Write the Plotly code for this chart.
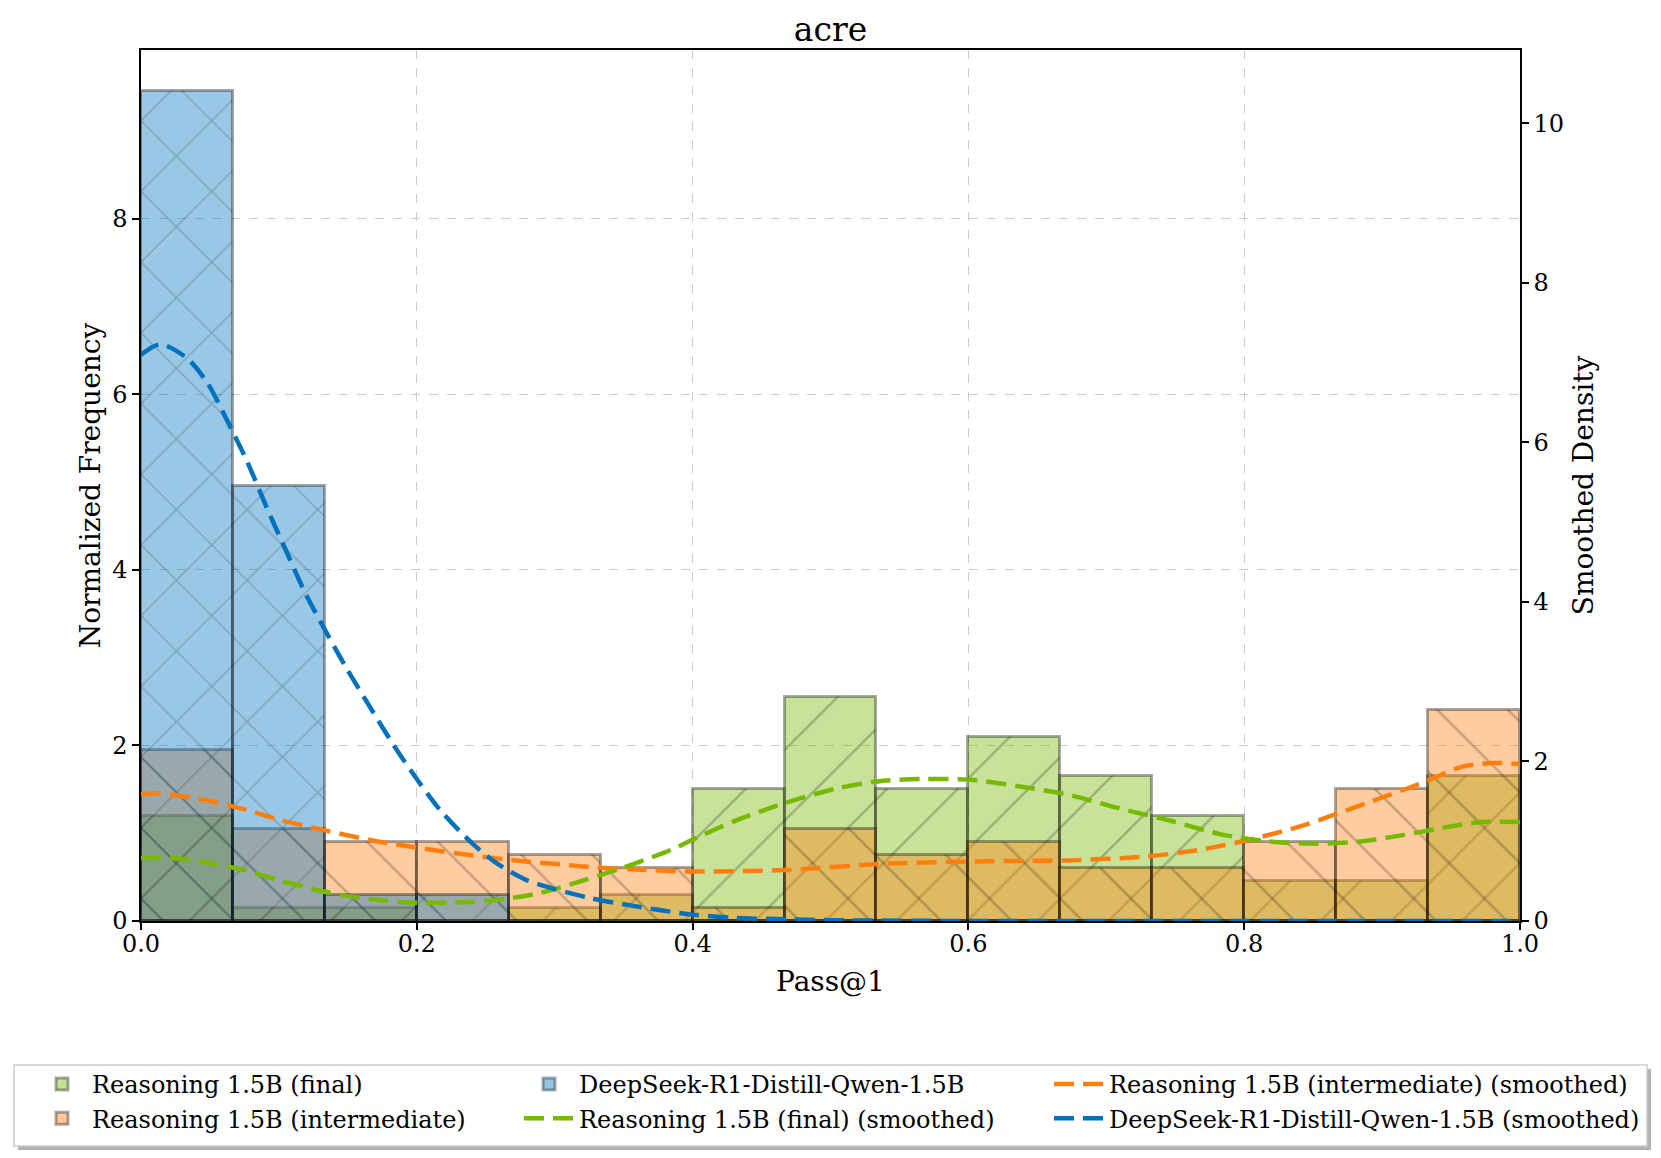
import numpy as np
import plotly.graph_objects as go

# ---------------- data ----------------
n_bins = 15
bin_edges = np.linspace(0.0, 1.0, n_bins + 1)

final_freq = [1.2, 0.15, 0.15, 0.0, 0.15, 0.3, 1.5, 2.55, 1.5, 2.1, 1.65, 1.2, 0.45, 0.45, 1.65]
inter_freq = [1.95, 1.05, 0.9, 0.9, 0.75, 0.6, 0.15, 1.05, 0.75, 0.9, 0.6, 0.6, 0.9, 1.5, 2.4]
ds_freq = [9.45, 4.95, 0.3, 0.3, 0, 0, 0, 0, 0, 0, 0, 0, 0, 0, 0]

inter_kde_x = [0.0, 0.013, 0.048, 0.077, 0.10, 0.135, 0.168, 0.2, 0.241, 0.277, 0.304, 0.323,
               0.354, 0.4, 0.467, 0.542, 0.617, 0.673, 0.729, 0.767, 0.804, 0.843, 0.889,
               0.932, 0.957, 0.98, 1.0]
inter_kde_y = [1.59, 1.60, 1.51, 1.39, 1.27, 1.13, 1.01, 0.92, 0.82, 0.75, 0.71, 0.68,
               0.65, 0.62, 0.64, 0.72, 0.75, 0.76, 0.81, 0.89, 1.02, 1.20, 1.48,
               1.75, 1.93, 1.98, 1.97]

final_kde_x = [0.0, 0.023, 0.048, 0.077, 0.10, 0.135, 0.168, 0.2, 0.241, 0.265, 0.289, 0.323,
               0.358, 0.384, 0.4, 0.43, 0.467, 0.504, 0.534, 0.568, 0.602, 0.636, 0.673,
               0.71, 0.748, 0.785, 0.823, 0.853, 0.886, 0.916, 0.948, 0.972, 1.0]
final_kde_y = [0.79, 0.79, 0.73, 0.63, 0.51, 0.36, 0.27, 0.23, 0.24, 0.28, 0.35, 0.52,
               0.72, 0.89, 1.02, 1.25, 1.48, 1.66, 1.75, 1.78, 1.77, 1.69, 1.58,
               1.41, 1.25, 1.08, 0.99, 0.97, 1.00, 1.08, 1.18, 1.24, 1.24]

ds_kde_x = [0.0, 0.014, 0.033, 0.048, 0.062, 0.077, 0.091, 0.106, 0.12, 0.135, 0.149, 0.164,
            0.183, 0.2, 0.217, 0.241, 0.26, 0.28, 0.30, 0.325, 0.35, 0.375, 0.40, 0.43,
            0.47, 0.5, 0.6, 0.8, 1.0]
ds_kde_y = [7.10, 7.23, 7.06, 6.75, 6.29, 5.76, 5.19, 4.61, 4.08, 3.60, 3.17, 2.74,
            2.21, 1.78, 1.39, 0.96, 0.70, 0.51, 0.40, 0.29, 0.21, 0.14, 0.08, 0.04,
            0.02, 0.01, 0.0, 0.0, 0.0]

names = ["Reasoning 1.5B (final)", "Reasoning 1.5B (intermediate)", "DeepSeek-R1-Distill-Qwen-1.5B"]
x_ticks = [0.0, 0.2, 0.4, 0.6, 0.8, 1.0]
y_ticks = [0, 2, 4, 6, 8]
y2_ticks = [0, 2, 4, 6, 8, 10]

# ---------------- style ----------------
FONT = "DejaVu Serif"
W, H = 1661, 1158
ML, MR, MT, MB = 141, 141, 50, 237
PW, PH = W - ML - MR, H - MT - MB

c_green, c_orange, c_blue = "#76b900", "#ff7f0e", "#0072bd"
f_green = "rgba(118,185,0,0.4)"
f_orange = "rgba(255,127,14,0.4)"
f_blue = "rgba(0,114,189,0.4)"
edge = "rgba(0,0,0,0.34)"
hatch = "rgba(0,0,0,0.45)"


def px_x(p):
    return (p - ML) / PW


def px_y(p):
    return (H - MB - p) / PH


centers = (bin_edges[:-1] + bin_edges[1:]) / 2
bw = bin_edges[1] - bin_edges[0]

fig = go.Figure()


def add_hist(vals, name, fill, shape, leg):
    fig.add_trace(go.Bar(
        x=centers, y=vals, width=bw, name=name, legend=leg, legendgroup=name,
        marker=dict(color=fill, line=dict(color=edge, width=3),
                    pattern=dict(shape=shape, fgcolor=hatch, bgcolor=fill,
                                 size=50, solidity=0.048)),
        yaxis="y"))


def add_kde(xs, ys, name, color, leg):
    fig.add_trace(go.Scatter(
        x=xs, y=ys, mode="lines", name=name, legend=leg, legendgroup=name,
        line=dict(color=color, width=4.5, dash="20px,9px", shape="spline", smoothing=0.8),
        yaxis="y2"))


add_hist(final_freq, names[0], f_green, "/", "legend")
add_hist(inter_freq, names[1], f_orange, "\\", "legend")
add_hist(ds_freq, names[2], f_blue, "x", "legend2")
add_kde(inter_kde_x, inter_kde_y, names[1] + " (smoothed)", c_orange, "legend3")
add_kde(final_kde_x, final_kde_y, names[0] + " (smoothed)", c_green, "legend2")
add_kde(ds_kde_x, ds_kde_y, names[2] + " (smoothed)", c_blue, "legend3")

axis_common = dict(
    ticks="outside", ticklen=7, tickwidth=1.5, tickcolor="black",
    showline=True, linecolor="black", linewidth=1.5,
    tickfont=dict(family=FONT, size=24, color="black"),
    zeroline=False,
)

leg_common = dict(orientation="v", yanchor="top", xanchor="left", bgcolor="rgba(0,0,0,0)",
                  borderwidth=0, font=dict(family=FONT, size=24, color="black"),
                  itemwidth=50, tracegroupgap=3, traceorder="normal")
leg_top = px_y(1062)

fig.update_layout(
    width=W, height=H,
    margin=dict(l=ML, r=MR, t=MT, b=MB),
    plot_bgcolor="white", paper_bgcolor="white",
    barmode="overlay", bargap=0,
    font=dict(family=FONT, color="black"),
    title=dict(text="acre", x=0.5, xanchor="center", y=1 - 29 / H, yanchor="middle",
               font=dict(family=FONT, size=33, color="black")),
    xaxis=dict(range=[0, 1], tickvals=x_ticks, tickformat=".1f", mirror=True,
               showgrid=True, gridcolor="#cccccc", griddash="dash", gridwidth=1,
               ticklabelstandoff=-7,
               title=dict(text="Pass@1", font=dict(family=FONT, size=28), standoff=15),
               **axis_common),
    yaxis=dict(range=[0, 9.92], tickvals=y_ticks, mirror=True,
               showgrid=True, gridcolor="#cccccc", griddash="dash", gridwidth=1,
               title=dict(text="Normalized Frequency", font=dict(family=FONT, size=28), standoff=3),
               **axis_common),
    yaxis2=dict(range=[0, 10.92], tickvals=y2_ticks, overlaying="y", side="right",
                showgrid=False,
                title=dict(text="Smoothed Density", font=dict(family=FONT, size=28), standoff=10),
                **axis_common),
    legend=dict(x=px_x(32), y=leg_top, **leg_common),
    legend2=dict(x=px_x(519), y=leg_top, **leg_common),
    legend3=dict(x=px_x(1049), y=leg_top, **leg_common),
    showlegend=True,
    shapes=[
        dict(type="rect", xref="paper", yref="paper", layer="below",
             x0=px_x(18), x1=px_x(1651), y0=px_y(1150), y1=px_y(1069),
             fillcolor="rgba(0,0,0,0.3)", line=dict(width=0)),
        dict(type="rect", xref="paper", yref="paper", layer="below",
             x0=px_x(14), x1=px_x(1647), y0=px_y(1146), y1=px_y(1065),
             fillcolor="white", line=dict(color="#cccccc", width=1.5)),
    ],
)

fig.write_html("out.html", config={"displayModeBar": False},
               post_script="document.body.style.margin='0';")
